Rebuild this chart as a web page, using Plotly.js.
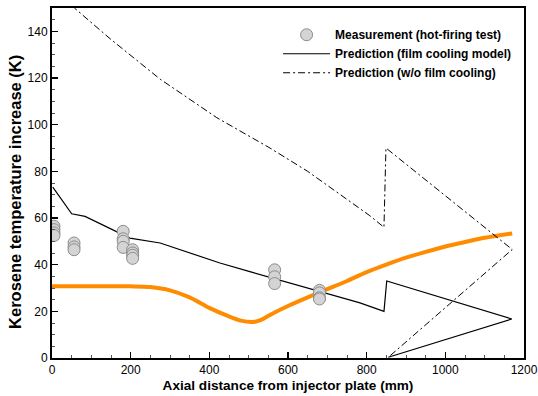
<!DOCTYPE html>
<html>
<head>
<meta charset="utf-8">
<script src="https://cdn.plot.ly/plotly-3.0.1.min.js"></script>
<style>html,body{margin:0;padding:0;background:#fff;}#chart{width:538px;height:396px;}</style>
</head>
<body>
<div id="chart"></div>
<script>
// Measurement (hot-firing test)
const measX = [5, 5, 5, 5, 56, 56, 56, 181, 181, 181, 181, 205, 205, 205, 205, 566, 566, 566, 680, 680, 680, 680];
const measY = [56.5, 55, 53.6, 52.5, 49.3, 47.6, 46.4, 54.3, 51.1, 50, 47.4, 46.4, 45, 44, 42.7, 37.8, 34.8, 31.9, 29, 27.9, 25.8, 25.3];

// Prediction (film cooling model)
const filmX = [2, 50, 84, 198, 275, 313, 427, 503, 630, 783, 844, 851, 1169, 855];
const filmY = [73.2, 61.8, 60.7, 51.4, 49.3, 47.1, 40.7, 37.0, 31.0, 23.6, 20.0, 33.0, 16.7, 0.3];

// Prediction (w/o film cooling)
const noFilmX = [50, 57, 150, 275, 419, 554, 650, 749, 808, 844, 849, 1170, 855];
const noFilmY = [151.2, 150, 136.5, 119.5, 103, 90, 80, 68.2, 61, 56, 90, 46.5, 0.3];

// Orange curve (unlabelled)
const orangeX = [0, 100, 200, 250, 300, 350, 400, 450, 480, 510, 530, 560, 600, 650, 700, 750, 800, 850, 900, 950, 1000, 1050, 1100, 1170];
const orangeY = [30.7, 30.8, 30.7, 30.4, 29, 26, 21.5, 17.8, 16, 15.4, 16.2, 19, 22.3, 26, 29.5, 33, 36.8, 40, 43, 45.5, 47.8, 49.7, 51.5, 53.4];

const xTicks = [0, 200, 400, 600, 800, 1000, 1200];
const yTicks = [0, 20, 40, 60, 80, 100, 120, 140];

const xTitle = 'Axial distance from injector plate (mm)';
const yTitle = 'Kerosene temperature increase (K)';

const traces = [
  {x: orangeX, y: orangeY, mode: 'lines', line: {color: '#ff8c00', width: 4, shape: 'spline', smoothing: 0.8}, showlegend: false, hoverinfo: 'skip'},
  {x: filmX, y: filmY, mode: 'lines', name: 'Prediction (film cooling model)', line: {color: '#000', width: 1.2}, legendrank: 2},
  {x: noFilmX, y: noFilmY, mode: 'lines', name: 'Prediction (w/o film cooling)', line: {color: '#000', width: 1, dash: '7px,3px,2px,3px'}, legendrank: 3},
  {x: measX, y: measY, mode: 'markers', name: 'Measurement (hot-firing test)', marker: {size: 12, color: '#d4d4d4', line: {color: '#8c8c8c', width: 1}}, legendrank: 1}
];

const layout = {
  width: 538, height: 396,
  margin: {l: 52, r: 14, t: 8, b: 38},
  paper_bgcolor: '#fff', plot_bgcolor: '#fff',
  font: {family: 'Liberation Sans, Arial, sans-serif', color: '#000', size: 12},
  showlegend: true,
  legend: {x: 0.479, y: 0.965, xanchor: 'left', yanchor: 'top', bgcolor: 'rgba(0,0,0,0)', font: {size: 12, family: 'Liberation Sans, Arial, sans-serif', weight: 'bold'}, tracegroupgap: 0, itemwidth: 47, traceorder: 'normal'},
  xaxis: {
    range: [0, 1200], tickvals: xTicks, ticktext: xTicks.map(String),
    ticks: 'inside', ticklen: 6, tickwidth: 1.5, tickcolor: '#000',
    minor: {dtick: 50, ticks: 'inside', ticklen: 3, tickwidth: 1, tickcolor: '#555'},
    showgrid: false, zeroline: false, showline: true, linecolor: '#000', linewidth: 2, mirror: true,
    tickfont: {size: 12},
    title: {text: xTitle, font: {size: 13.6, weight: 'bold'}, standoff: 4}
  },
  yaxis: {
    range: [0, 150], tickvals: yTicks, ticktext: yTicks.map(String),
    ticks: 'inside', ticklen: 6, tickwidth: 1.5, tickcolor: '#000',
    minor: {dtick: 5, ticks: 'inside', ticklen: 3, tickwidth: 1, tickcolor: '#555'},
    showgrid: false, zeroline: false, showline: true, linecolor: '#000', linewidth: 2, mirror: true,
    tickfont: {size: 12}
  },
  annotations: [{
    text: yTitle, xref: 'paper', yref: 'paper', x: -0.078, y: 0.475,
    xanchor: 'center', yanchor: 'middle', textangle: -90, showarrow: false,
    font: {size: 16.5, weight: 'bold', family: 'Liberation Sans, Arial, sans-serif', color: '#000'}
  }]
};

Plotly.newPlot('chart', traces, layout, {displayModeBar: false, staticPlot: true});
</script>
</body>
</html>
